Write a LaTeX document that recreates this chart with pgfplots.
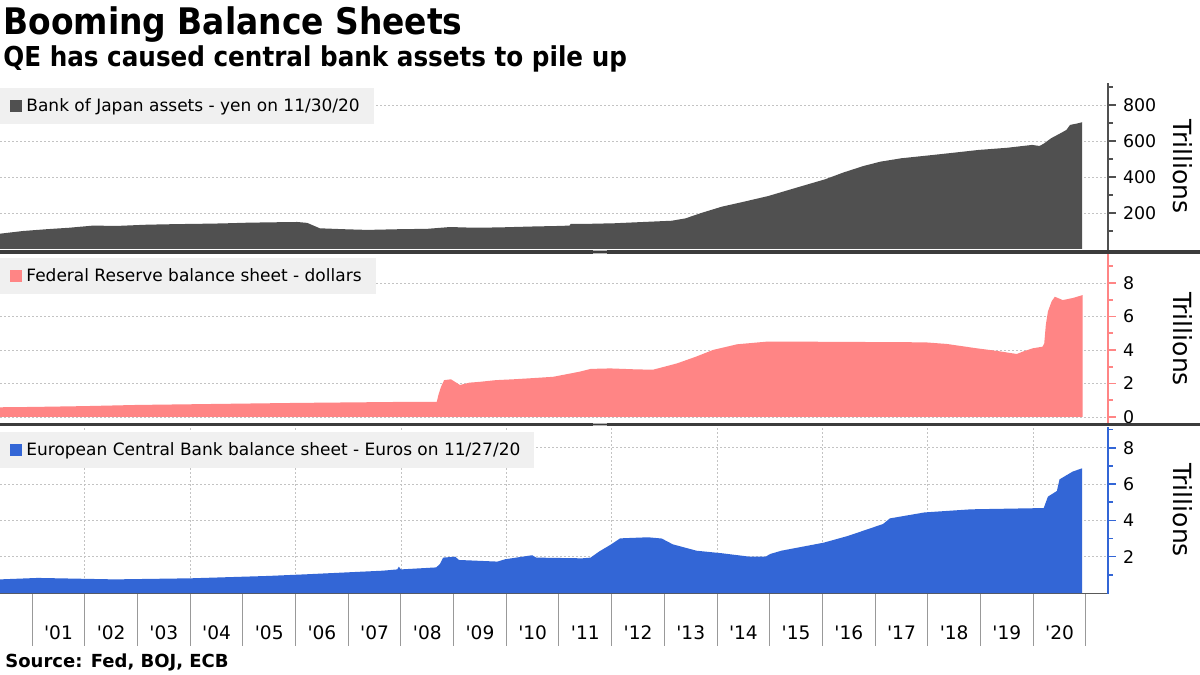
\documentclass[border=0pt]{standalone}
\usepackage{fontspec}
\setmainfont{DejaVu Sans}[Ligatures=TeXOff]
\newfontfamily\condbold{DejaVuSansCondensed-Bold.ttf}
\usepackage{pgfplots}
\pgfplotsset{compat=1.18}

\definecolor{bojgray}{RGB}{80,80,80}
\definecolor{fedpink}{RGB}{255,133,133}
\definecolor{ecbblue}{RGB}{51,102,214}
\definecolor{leggray}{RGB}{240,240,240}
\definecolor{gridgray}{RGB}{195,195,195}
\definecolor{sepgray}{RGB}{60,60,60}

\pgfplotsset{
  panel/.style={
    scale only axis, width=554pt,
    xmin=2000.39, xmax=2021.42,
    axis y line*=right, axis x line*=bottom,
    x axis line style={draw=none},
    y axis line style={-, line width=0.8pt, #1},
    ytick style={#1, line width=0.8pt},
    xtick=\empty,
    minor xtick={2002,2004,...,2020},
    minor x tick style={draw=none},
    xminorgrids=true, ymajorgrids=true,
    minor grid style={gridgray, dash pattern=on 1pt off 1pt, line width=0.4pt},
    major grid style={gridgray, dash pattern=on 1pt off 1pt, line width=0.4pt},
    tick align=outside,
    major tick length=4pt, minor tick length=2.5pt,
    tick label style={font=\fontsize{8.7}{10}\selectfont},
    /pgf/number format/assume math mode=true,
    legend style={at={(0,1)}, anchor=north west, fill=leggray, draw=none,
      font=\fontsize{8.5}{10}\selectfont, inner xsep=5pt, inner ysep=3pt},
    legend image code/.code={\fill[##1] (0pt,-3pt) rectangle (6pt,3pt);},
  }
}

\begin{document}
\begin{tikzpicture}[x=0.5pt,y=0.5pt]
\useasboundingbox[fill=white] (0,0) rectangle (1200,675);

% titles
\node[anchor=base west, inner sep=0pt, font=\condbold\fontsize{18.3}{20}\selectfont] at (3,640) {Booming Balance Sheets};
\node[anchor=base west, inner sep=0pt, font=\condbold\fontsize{13.7}{15}\selectfont] at (3,608) {QE has caused central bank assets to pile up};

% Bank of Japan
\begin{axis}[panel=bojgray, at={(0pt,212.5pt)}, anchor=south west, height=83.5pt,
  ymin=-5.56, ymax=922,
  ytick={200,400,600,800}, minor ytick={100,300,500,700,900},
  legend style={yshift=-2.5pt}]
\addplot[fill=bojgray, draw=none] coordinates {
(2000.39,85) (2000.83,100) (2001.28,110) (2001.7,118) (2002.16,130) (2002.6,128)
(2003.18,135) (2003.7,138) (2004.19,140) (2004.6,142) (2005.08,146) (2005.5,148)
(2006.03,150) (2006.22,145) (2006.46,115) (2006.9,110) (2007.36,106) (2007.98,110)
(2008.5,112) (2008.93,122) (2009.4,118) (2009.88,120) (2010.5,125) (2011.0,128)
(2011.2,130) (2011.22,139) (2011.6,140) (2012.06,143) (2012.6,150) (2013.14,157)
(2013.4,170) (2013.7,200) (2014.09,235) (2014.5,262) (2014.97,294) (2015.5,340)
(2016.05,387) (2016.4,425) (2016.78,461) (2017.1,485) (2017.5,504) (2018.09,522)
(2018.5,535) (2018.96,550) (2019.5,562) (2019.98,578) (2020.12,572) (2020.2,585)
(2020.34,615) (2020.5,640) (2020.63,661) (2020.70,689) (2020.85,698) (2020.93,704)
} \closedcycle;
\addlegendentry{Bank of Japan assets - yen on 11/30/20}
\end{axis}

% Federal Reserve
\begin{axis}[panel=fedpink, at={(0pt,126pt)}, anchor=south west, height=84.5pt,
  ymin=-0.358, ymax=9.73,
  ytick={0,2,4,6,8}, minor ytick={1,3,5,7,9},
  legend style={yshift=-2pt}]
\addplot[fill=fedpink, draw=none] coordinates {
(2000.39,0.58) (2001,0.6) (2002,0.65) (2003,0.72) (2004,0.76) (2005,0.8) (2006,0.84)
(2007,0.87) (2008,0.9) (2008.68,0.9) (2008.71,1.3) (2008.76,1.8) (2008.82,2.2)
(2008.95,2.25) (2009.12,1.91) (2009.3,2.05) (2009.5,2.1) (2009.8,2.2) (2010.13,2.25)
(2010.5,2.32) (2010.89,2.4) (2011.4,2.71) (2011.6,2.87) (2011.97,2.9) (2012.4,2.85)
(2012.78,2.82) (2013.0,3.0) (2013.24,3.2) (2013.6,3.6) (2013.92,4.0) (2014.38,4.34)
(2014.95,4.5) (2015.5,4.5) (2016.5,4.48) (2017.5,4.47) (2017.98,4.45) (2018.36,4.36)
(2018.93,4.1) (2019.3,3.95) (2019.69,3.76) (2019.8,3.9) (2019.99,4.1) (2020.18,4.2)
(2020.21,4.4) (2020.24,5.5) (2020.28,6.3) (2020.35,6.9) (2020.41,7.18) (2020.56,6.98)
(2020.75,7.1) (2020.94,7.28)
} \closedcycle;
\addlegendentry{Federal Reserve balance sheet - dollars}
\end{axis}

% ECB
\begin{axis}[panel=ecbblue, at={(0pt,40.5pt)}, anchor=south west, height=83.5pt,
  ymin=-0.055, ymax=9.146,
  ytick={2,4,6,8}, minor ytick={1,3,5,7,9},
  x axis line style={draw=gray!70!black, line width=0.5pt},
  xtick={2001.5,2002.5,2003.5,2004.5,2005.5,2006.5,2007.5,2008.5,2009.5,2010.5,
         2011.5,2012.5,2013.5,2014.5,2015.5,2016.5,2017.5,2018.5,2019.5,2020.5},
  xticklabels={'01,'02,'03,'04,'05,'06,'07,'08,'09,'10,'11,'12,'13,'14,'15,'16,'17,'18,'19,'20},
  xtick style={draw=none},
  xticklabel style={font=\fontsize{9.3}{11}\selectfont, anchor=base, yshift=-19pt},
  extra x ticks={2001,2002,...,2021},
  extra x tick labels={},
  extra x tick style={major tick length=26pt, xtick style={draw=gray!80, line width=0.5pt}, xmajorgrids=false},
  legend style={yshift=-2.5pt}]
\addplot[fill=ecbblue, draw=none] coordinates {
(2000.39,0.75) (2001.11,0.83) (2002.57,0.75) (2004.02,0.81) (2005.48,0.94) (2006.2,1.03)
(2007.66,1.23) (2007.93,1.3) (2007.96,1.45) (2008.0,1.3) (2008.67,1.41) (2008.74,1.6)
(2008.8,1.95) (2009.03,2.0) (2009.10,1.82) (2009.83,1.73) (2009.98,1.86) (2010.49,2.08)
(2010.57,1.95) (2011.44,1.91) (2011.6,1.95) (2011.76,2.28) (2011.99,2.68) (2012.16,3.01)
(2012.69,3.07) (2012.95,3.0) (2013.16,2.68) (2013.61,2.33) (2014.09,2.19) (2014.62,2.0)
(2014.92,2.0) (2015.01,2.15) (2015.22,2.33) (2016.02,2.77) (2016.48,3.14) (2017.15,3.8)
(2017.28,4.11) (2017.94,4.44) (2018.82,4.61) (2020.01,4.67) (2020.2,4.68) (2020.28,5.31)
(2020.45,5.62) (2020.5,6.26) (2020.75,6.69) (2020.93,6.87)
} \closedcycle;
\addlegendentry{European Central Bank balance sheet - Euros on 11/27/20}
\end{axis}

% panel separators
\draw[sepgray, line width=1.8pt] (0,423) -- (1200,423);
\draw[sepgray, line width=1.8pt] (0,250.3) -- (1200,250.3);
\foreach \yy in {423,250.3} {
  \draw[gray!60, line width=0.4pt] (593,\yy+1.2) -- (607,\yy+1.2);
  \draw[gray!60, line width=0.4pt] (593,\yy-1.2) -- (607,\yy-1.2);
}

% unit labels
\foreach \yy in {508.5,336,165} {
  \node[rotate=-90, font=\fontsize{12.5}{14}\selectfont] at (1183,\yy) {Trillions};
}

\node[anchor=base west, inner sep=0pt, font=\bfseries\fontsize{9}{11}\selectfont] at (5,8) {Source: Fed, BOJ, ECB};
\end{tikzpicture}
\end{document}
